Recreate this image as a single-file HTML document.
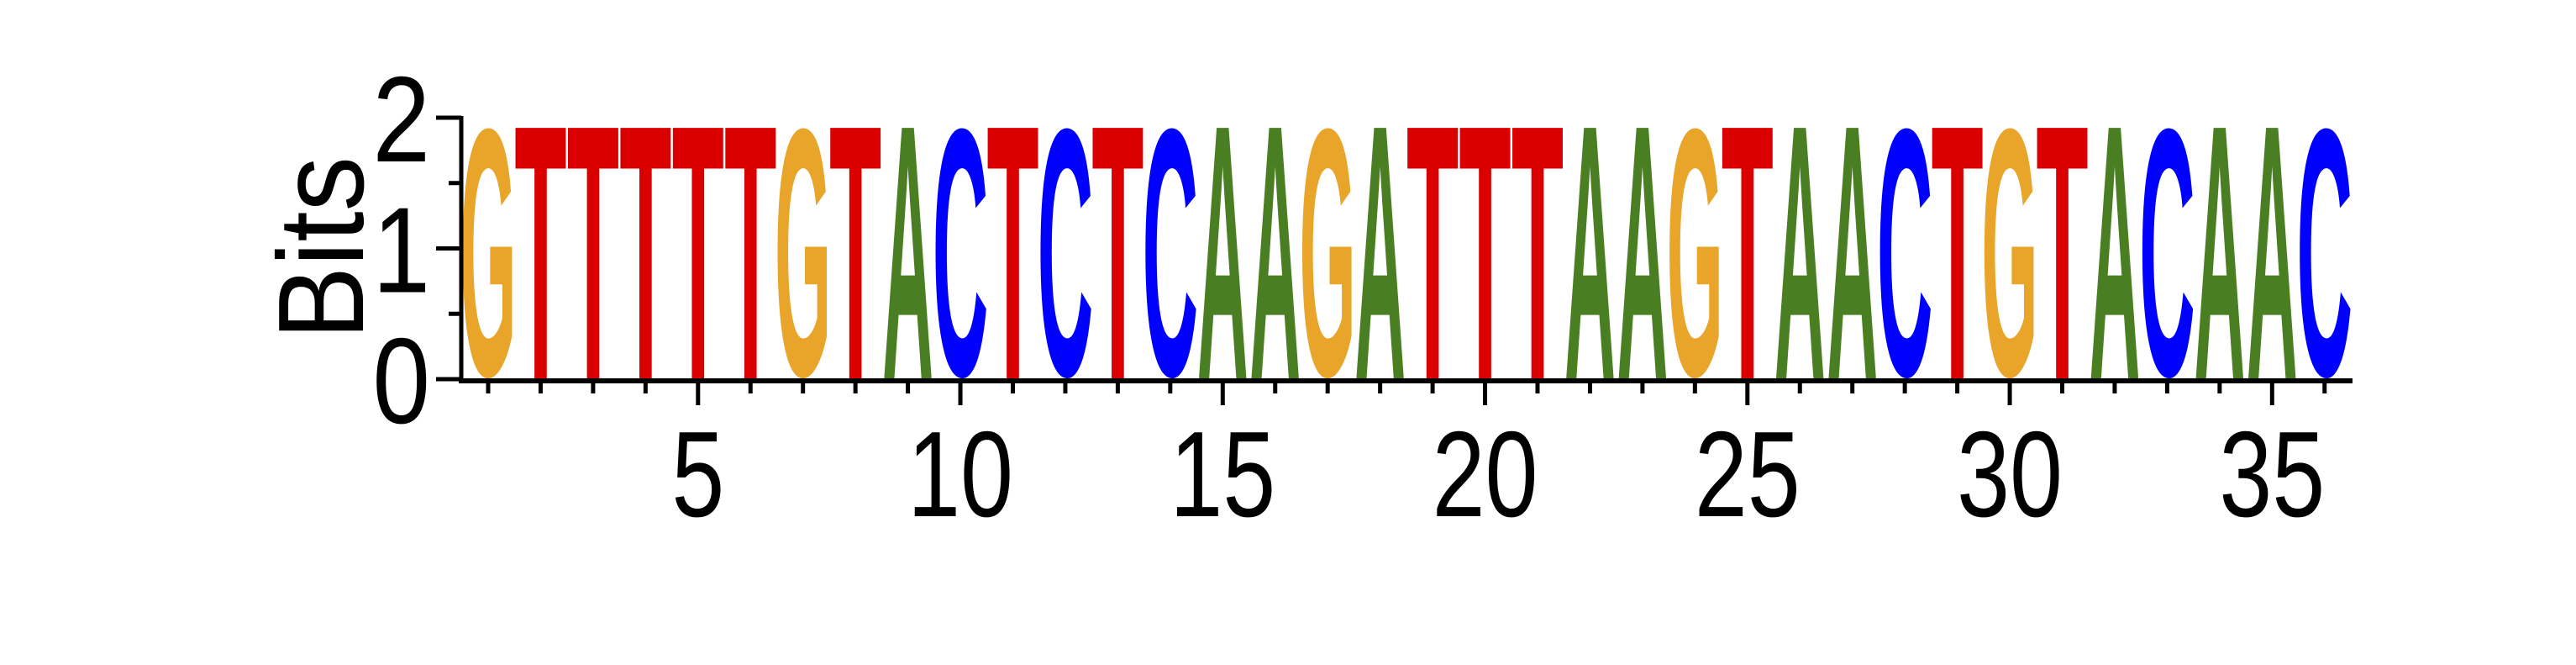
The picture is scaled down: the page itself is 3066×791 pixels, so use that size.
<!DOCTYPE html>
<html><head><meta charset="utf-8"><style>
html,body{margin:0;padding:0;background:#fff;}
svg{display:block;}
</style></head><body>
<svg id="chart" width="3066" height="791" viewBox="0 0 3066 791" xmlns="http://www.w3.org/2000/svg">
<rect width="3066" height="791" fill="#fff"/>
<g id="letters"></g>
<g id="axes"></g>
<text transform="translate(432,295) rotate(-90)" x="0" y="0" text-anchor="middle" font-family="Liberation Sans, sans-serif" font-size="145" textLength="218" lengthAdjust="spacingAndGlyphs" fill="#000">Bits</text>
</svg>
<script>
const positions = [1,2,3,4,5,6,7,8,9,10,11,12,13,14,15,16,17,18,19,20,21,22,23,24,25,26,27,28,29,30,31,32,33,34,35,36];
const letters = ["G","T","T","T","T","T","G","T","A","C","T","C","T","C","A","A","G","A","T","T","T","A","A","G","T","A","A","C","T","G","T","A","C","A","A","C"];
const bits = [2,2,2,2,2,2,2,2,2,2,2,2,2,2,2,2,2,2,2,2,2,2,2,2,2,2,2,2,2,2,2,2,2,2,2,2];
const yTicks = [0,1,2];
const yMinorTicks = [0.5,1.5];
const xTickLabels = [5,10,15,20,25,30,35];

const NS = "http://www.w3.org/2000/svg";
const X0 = 581, STEP = 62.45;
function xScale(p){ return X0 + (p-1)*STEP; }
const Y0 = 451, YTOP = 140;
function yScale(v){ return Y0 - v*(Y0-YTOP)/2; }

const colors = {A:"#4A7E22", C:"#0000FF", G:"#E9A42A", T:"#DA0000"};
const inkW = {A:0.70, C:0.64, G:0.68, T:0.58};
const overshoot = {A:0, T:0, C:0.012, G:0.012};

const lg = document.getElementById('letters');
letters.forEach((L,i)=>{
  const cx = xScale(positions[i]);
  const top = yScale(bits[i]);
  const h = Y0 - top;
  const fs = 100;
  const capH = (0.716 + 2*overshoot[L]) * fs;
  const sy = h / capH;
  const sx = 59 / (inkW[L]*fs);
  const t = document.createElementNS(NS,'text');
  
  
  t.setAttribute('text-anchor','middle');
  t.setAttribute('font-family','Liberation Sans, sans-serif');
  t.setAttribute('font-weight','bold');
  t.setAttribute('font-size', fs);
  t.setAttribute('fill', colors[L]);
  t.setAttribute('transform', 'translate(' + cx + ',' + (Y0 - overshoot[L]*fs*sy) + ') scale(' + sx + ',' + sy + ')');
  t.textContent = L;
  lg.appendChild(t);
});

const ag = document.getElementById('axes');
function line(x1,y1,x2,y2,w,name){
  const l = document.createElementNS(NS,'line');
  
  
  l.setAttribute('x1',x1);l.setAttribute('y1',y1);l.setAttribute('x2',x2);l.setAttribute('y2',y2);
  l.setAttribute('stroke','#000');l.setAttribute('stroke-width',w);
  ag.appendChild(l);
}
function label(x,y,txt,anchor,name,sx){
  const t = document.createElementNS(NS,'text');
  
  
  t.setAttribute('x',0);t.setAttribute('y',0);
  t.setAttribute('transform','translate(' + x + ',' + y + ') scale(' + sx + ',1)');
  t.setAttribute('text-anchor',anchor);
  t.setAttribute('font-family','Liberation Sans, sans-serif');
  t.setAttribute('font-size','145');
  t.setAttribute('fill','#000');
  t.textContent = txt;
  ag.appendChild(t);
}
line(549, YTOP-2, 549, Y0+5, 5, 'y-axis-line');
line(546, Y0+2, 2800, Y0+2, 6, 'x-axis-line');
yTicks.forEach(v=>{
  line(519, yScale(v), 549, yScale(v), 5, 'y-major-tick');
  label(512, yScale(v)+52, String(v), 'end', 'y-tick-label', 0.85);
});
yMinorTicks.forEach(v=>{ line(534, yScale(v), 549, yScale(v), 5, 'y-minor-tick'); });
positions.forEach(p=>{
  const major = p % 5 === 0;
  line(xScale(p), Y0+2, xScale(p), major ? 482 : 468, 5, major ? 'x-major-tick' : 'x-minor-tick');
});
xTickLabels.forEach(p=>{ label(xScale(p), 614, String(p), 'middle', 'x-tick-label', 0.78); });
</script>
</body></html>
